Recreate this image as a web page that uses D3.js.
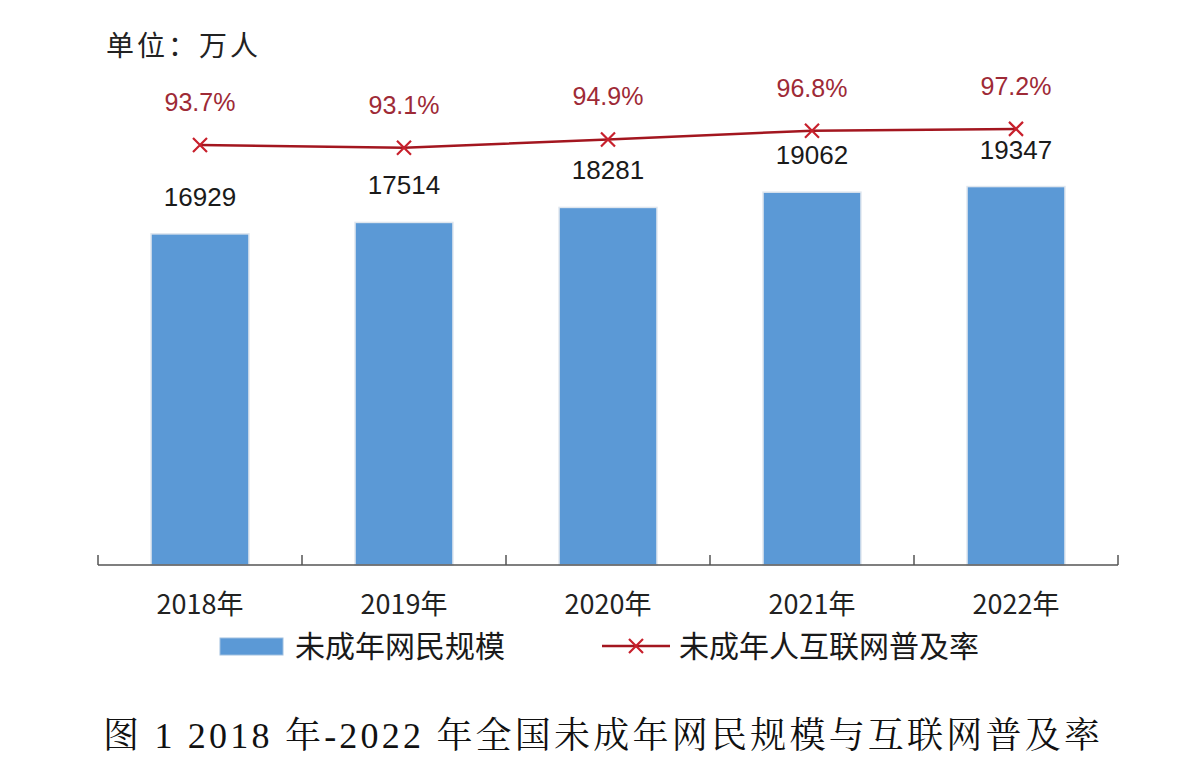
<!DOCTYPE html>
<html><head><meta charset="utf-8">
<script src="https://cdn.jsdelivr.net/npm/d3@7/dist/d3.min.js"></script>
<style>body{margin:0;background:#fff;} svg{display:block;}</style>
</head><body>
<svg id="c" width="1200" height="784"></svg>
<script>
const categories = ["2018年","2019年","2020年","2021年","2022年"];
const users = [16929, 17514, 18281, 19062, 19347];
const rates = [93.7, 93.1, 94.9, 96.8, 97.2];
const rateLabels = ["93.7%","93.1%","94.9%","96.8%","97.2%"];
const seriesNames = ["未成年网民规模","未成年人互联网普及率"];
const unitText = "单位：万人";
const caption = "图 1 2018 年-2022 年全国未成年网民规模与互联网普及率";

const svg = d3.select("#c");
const sans = "'Noto Sans CJK SC','Liberation Sans',Arial,sans-serif";
const x = d3.scaleBand().domain(categories).range([98, 1118]).paddingInner(0.52).paddingOuter(0.26);
const xStep = d3.scaleBand().domain(categories).range([98, 1118]);
const y = d3.scaleLinear().domain([0, 25000]).range([565, 76]);
const y2 = d3.scaleLinear().domain([0, 100]).range([576, 116]);

svg.append("rect").attr("width",1200).attr("height",784).attr("fill","#fff");

// unit
svg.append("text").attr("x",106).attr("y",56).attr("font-family",sans).attr("font-size",28)
  .attr("fill","#222").attr("textLength",152).attr("lengthAdjust","spacing").text(unitText);

// bars
svg.selectAll("rect.bar").data(users).join("rect").attr("class","bar")
  .attr("x",(d,i)=>x(categories[i])).attr("width",x.bandwidth())
  .attr("y",d=>y(d)).attr("height",d=>y(0)-y(d))
  .attr("fill","#5b99d6").attr("stroke","#dfe6ee").attr("stroke-width",1.5);

svg.selectAll("text.val").data(users).join("text").attr("class","val")
  .attr("x",(d,i)=>x(categories[i])+x.bandwidth()/2).attr("y",d=>y(d)-28)
  .attr("text-anchor","middle").attr("font-family","'Liberation Sans',Arial,sans-serif")
  .attr("font-size",26).attr("fill","#1a1a1a").text(d=>d);

// axis
const axis = d3.axisBottom(xStep).tickSize(0).tickFormat("");
const gAx = svg.append("g").attr("transform","translate(0,565)").call(axis);
gAx.select(".domain").attr("stroke","#555").attr("stroke-width",1.5).attr("d","M98,0H1118");
const bounds = categories.map(c=>xStep(c)).concat([xStep(categories[categories.length-1])+xStep.step()]);
svg.selectAll("line.tk").data(bounds).join("line").attr("class","tk")
  .attr("x1",d=>d).attr("x2",d=>d).attr("y1",555).attr("y2",565)
  .attr("stroke","#555").attr("stroke-width",1.5);
svg.selectAll("text.cat").data(categories).join("text").attr("class","cat")
  .attr("x",d=>xStep(d)+xStep.step()/2).attr("y",614).attr("text-anchor","middle")
  .attr("font-family",sans).attr("font-size",27).attr("fill","#222").text(d=>d);

// line
const cx = (i)=>x(categories[i])+x.bandwidth()/2;
const line = d3.line().x((d,i)=>cx(i)).y(d=>y2(d));
svg.append("path").datum(rates).attr("d",line).attr("fill","none")
  .attr("stroke","#a3161f").attr("stroke-width",2.5);
const mk = 7;
function cross(g, px, py){
  g.append("path").attr("d",`M${px-mk},${py-mk}L${px+mk},${py+mk}M${px-mk},${py+mk}L${px+mk},${py-mk}`)
   .attr("stroke","#c8202c").attr("stroke-width",2.2).attr("fill","none");
}
const gm = svg.append("g");
rates.forEach((d,i)=>cross(gm, cx(i), y2(d)));
svg.selectAll("text.rate").data(rates).join("text").attr("class","rate")
  .attr("x",(d,i)=>cx(i)).attr("y",d=>y2(d)-34)
  .attr("text-anchor","middle").attr("font-family","'Liberation Sans',Arial,sans-serif")
  .attr("font-size",25).attr("fill","#9e2a36").text((d,i)=>rateLabels[i]);

// legend
svg.append("rect").attr("x",220).attr("y",638).attr("width",63).attr("height",17)
  .attr("fill","#5b99d6").attr("stroke","#9fbfe0").attr("stroke-width",1);
svg.append("text").attr("x",295).attr("y",657).attr("font-family",sans).attr("font-size",30)
  .attr("fill","#1a1a1a").text(seriesNames[0]);
svg.append("line").attr("x1",602).attr("x2",670).attr("y1",646).attr("y2",646)
  .attr("stroke","#a3161f").attr("stroke-width",2.5);
cross(svg, 636, 646);
svg.append("text").attr("x",679).attr("y",657).attr("font-family",sans).attr("font-size",30)
  .attr("fill","#1a1a1a").text(seriesNames[1]);

// caption
svg.append("text").attr("x",103).attr("y",748).attr("font-family","'Liberation Serif','Noto Serif CJK SC','Noto Sans CJK SC',serif")
  .attr("font-size",36).attr("fill","#111").attr("textLength",997).attr("lengthAdjust","spacing").text(caption);
</script>
</body></html>
